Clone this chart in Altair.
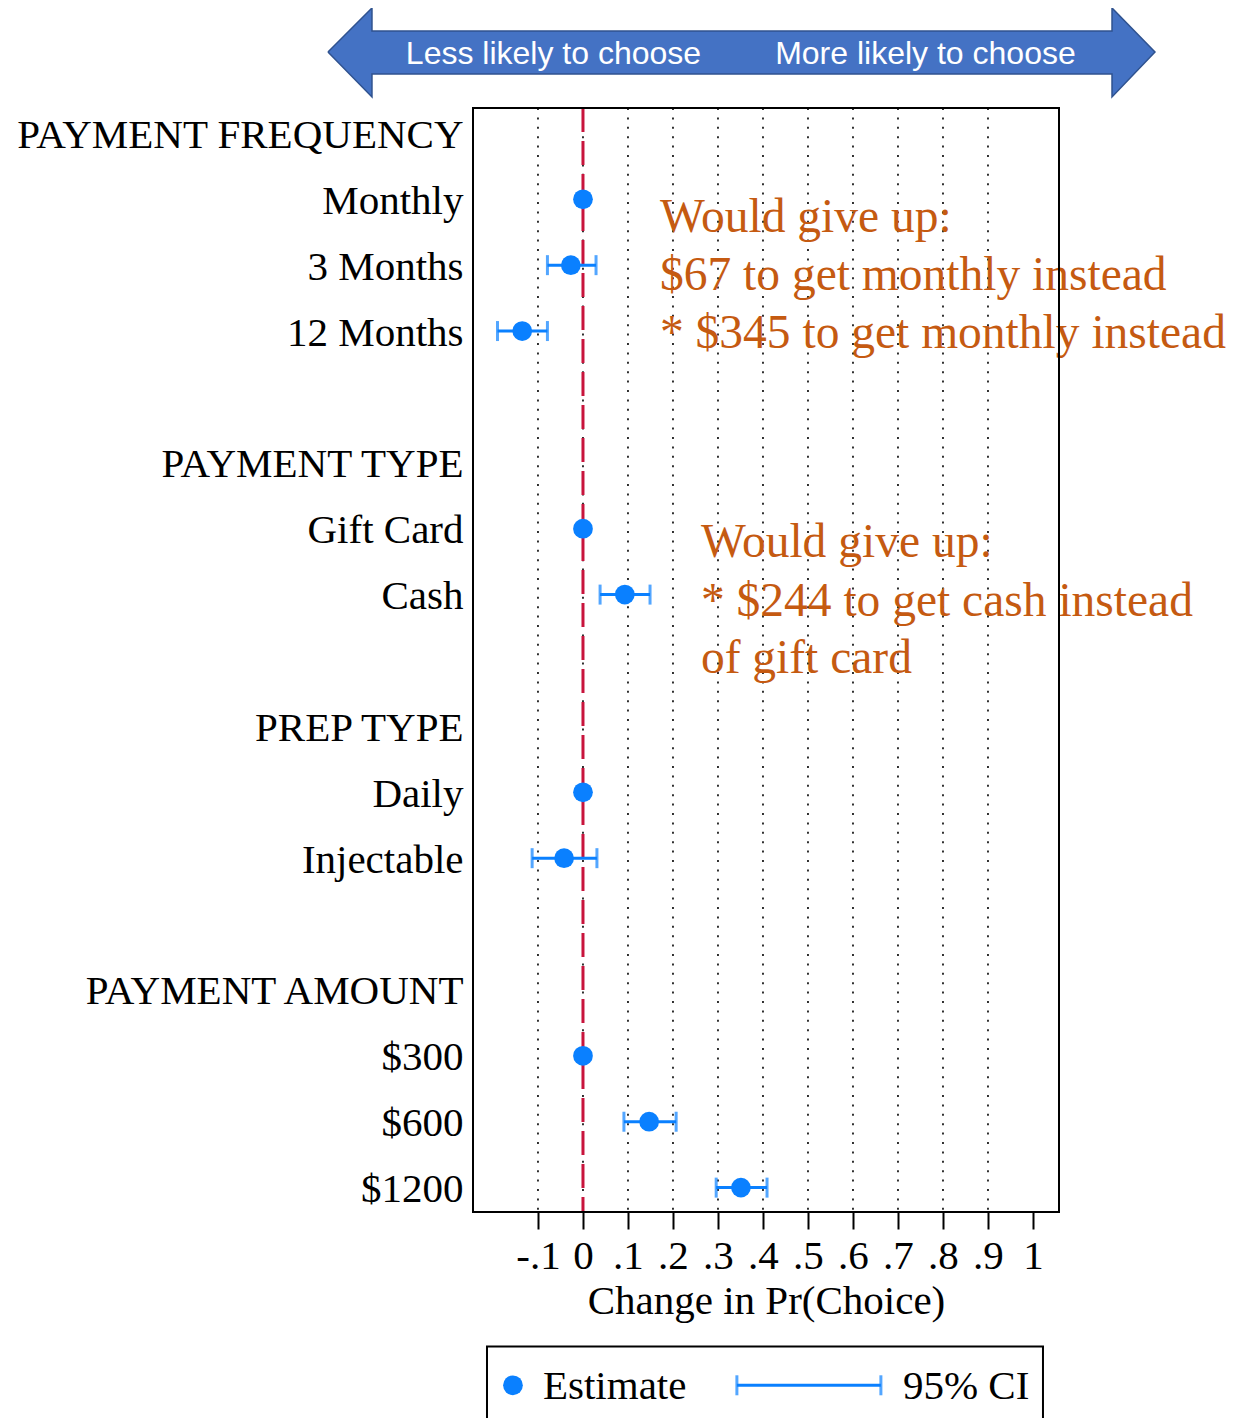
import json
import altair as alt
import pandas as pd

# ---------------- data ----------------
row_labels = ["PAYMENT FREQUENCY", "Monthly", "3 Months", "12 Months", "",
              "PAYMENT TYPE", "Gift Card", "Cash", "",
              "PREP TYPE", "Daily", "Injectable", "",
              "PAYMENT AMOUNT", "$300", "$600", "$1200"]
levels = ["Monthly", "3 Months", "12 Months", "Gift Card", "Cash",
          "Daily", "Injectable", "$300", "$600", "$1200"]
estimates = [0.0, -0.027, -0.135, 0.0, 0.093, 0.0, -0.042, 0.0, 0.147, 0.351]
ci_low = [None, -0.079, -0.190, None, 0.038, None, -0.113, None, 0.091, 0.296]
ci_high = [None, 0.029, -0.079, None, 0.149, None, 0.031, None, 0.207, 0.409]

x_ticks = [-0.1, 0, 0.1, 0.2, 0.3, 0.4, 0.5, 0.6, 0.7, 0.8, 0.9, 1]
grid_values = [-0.1, 0, 0.1, 0.2, 0.3, 0.4, 0.5, 0.6, 0.7, 0.8, 0.9]

note1_lines = ["Would give up:", "$67 to get monthly instead", "* $345 to get monthly instead"]
note2_lines = ["Would give up:", "* $244 to get cash instead", "of gift card"]
arrow_labels = ["Less likely to choose", "More likely to choose"]
legend_labels = ["Estimate", "95% CI"]

# ---------------- layout (scale domains & decoration placement) ----------------
XMIN, XMAX = -0.2444, 1.0578
YMIN, YMAX = -0.385, 16.37
W, H = 586, 1104

note1_x, note1_y = 0.171, [1.28, 2.16, 3.04]
note2_x, note2_y = 0.262, [6.22, 7.11, 7.97]

arrow_x = [-0.5667, -0.4689, -0.4689, 1.1756, 1.1756, 1.2711, 1.1756, 1.1756, -0.4689, -0.4689, -0.5667]
arrow_y = [-1.235, -1.903, -1.554, -1.554, -1.903, -1.235, -0.552, -0.901, -0.901, -0.552, -1.235]
arrow_text_x = [-0.0656, 0.761]
arrow_text_y = -1.20

leg_box = dict(x=-0.2133, x2=1.0222, y=18.41, y2=19.62)
leg_y = 19.0
leg_dot_x = -0.1556
leg_est_x = -0.0889
leg_ci_x, leg_ci_x2 = 0.342, 0.662
leg_ci_text_x = 0.711

BLUE = "#0a80ff"
RED = "#c8143c"
ORANGE = "#c55a11"
SERIF = "Liberation Serif"
FS = 41

# ---------------- tables ----------------
pts = pd.DataFrame({
    "row": [row_labels.index(l) for l in levels],
    "level": levels,
    "est": estimates,
    "lo": ci_low,
    "hi": ci_high,
})
ci = pts.dropna(subset=["lo"])
caps = pd.concat([
    pd.DataFrame({"row": ci["row"], "x": ci["lo"]}),
    pd.DataFrame({"row": ci["row"], "x": ci["hi"]}),
])

xs = alt.Scale(domain=[XMIN, XMAX], nice=False, zero=False)
ys = alt.Scale(domain=[YMIN, YMAX], nice=False, zero=False, reverse=True)

label_expr = "[" + ",".join(json.dumps(l) for l in row_labels) + "][datum.value]"

x_axis = alt.Axis(values=x_ticks, labelExpr="replace(toString(datum.value), '0.', '.')",
                  title="Change in Pr(Choice)", grid=False, domain=False,
                  tickSize=17, tickWidth=2, tickColor="black",
                  labelFont=SERIF, labelFontSize=FS, labelColor="black", labelPadding=7,
                  labelFlush=False, labelOverlap=False,
                  titleFont=SERIF, titleFontSize=FS, titleFontWeight="normal",
                  titleColor="black", titlePadding=5)
y_axis = alt.Axis(values=list(range(len(row_labels))), labelExpr=label_expr, title=None,
                  grid=False, domain=False, ticks=False,
                  labelFont=SERIF, labelFontSize=FS, labelColor="black", labelPadding=10,
                  labelLimit=800, labelOverlap=False, labelBaseline="middle", labelOffset=2)

# grid lines (dotted)
grid = alt.Chart(pd.DataFrame({"g": grid_values})).mark_rule(
    color="black", strokeWidth=1.6, strokeDash=[2, 7.4]
).encode(x=alt.X("g:Q", scale=xs, axis=x_axis))

# axis carrier for y labels
yaxis_layer = alt.Chart(pd.DataFrame({"row": list(range(len(row_labels))), "x": [0.0] * len(row_labels)})).mark_point(
    opacity=0
).encode(x=alt.X("x:Q", scale=xs), y=alt.Y("row:Q", scale=ys, axis=y_axis))

zero_line = alt.Chart(pd.DataFrame({"z": [0.0]})).mark_rule(
    color=RED, strokeWidth=3, strokeDash=[24, 9]
).encode(x=alt.X("z:Q", scale=xs))

ci_rule = alt.Chart(ci).mark_rule(color=BLUE, strokeWidth=3).encode(
    x=alt.X("lo:Q", scale=xs), x2="hi:Q", y=alt.Y("row:Q", scale=ys))
ci_caps = alt.Chart(caps).mark_tick(color=BLUE, orient="vertical", size=20, thickness=3).encode(
    x=alt.X("x:Q", scale=xs), y=alt.Y("row:Q", scale=ys))
points = alt.Chart(pts).mark_circle(color=BLUE, size=390, opacity=1).encode(
    x=alt.X("est:Q", scale=xs), y=alt.Y("row:Q", scale=ys))

notes_df = pd.DataFrame({
    "t": note1_lines + note2_lines,
    "x": [note1_x] * 3 + [note2_x] * 3,
    "y": note1_y + note2_y,
})
notes = alt.Chart(notes_df).mark_text(
    align="left", baseline="middle", font=SERIF, fontSize=47.5, color=ORANGE, clip=False
).encode(x=alt.X("x:Q", scale=xs), y=alt.Y("y:Q", scale=ys), text="t:N")

frame = alt.Chart(pd.DataFrame({"x": [XMIN], "x2": [XMAX], "y": [YMIN], "y2": [YMAX]})).mark_rect(
    fillOpacity=0, stroke="black", strokeWidth=2
).encode(x=alt.X("x:Q", scale=xs), x2="x2:Q", y=alt.Y("y:Q", scale=ys), y2="y2:Q")

arrow_df = pd.DataFrame({"x": arrow_x, "y": arrow_y, "i": list(range(len(arrow_x)))})
arrow = alt.Chart(arrow_df).mark_line(
    fill="#4472c4", stroke="#2f528f", strokeWidth=1.5, clip=False, interpolate="linear"
).encode(x=alt.X("x:Q", scale=xs), y=alt.Y("y:Q", scale=ys), order="i:Q")
arrow_text = alt.Chart(pd.DataFrame({"t": arrow_labels, "x": arrow_text_x, "y": [arrow_text_y] * 2})).mark_text(
    align="center", baseline="middle", font="Liberation Sans", fontSize=32, color="white", clip=False
).encode(x=alt.X("x:Q", scale=xs), y=alt.Y("y:Q", scale=ys), text="t:N")

# legend
leg_rect = alt.Chart(pd.DataFrame([leg_box])).mark_rect(
    fill="white", stroke="black", strokeWidth=2, clip=False
).encode(x=alt.X("x:Q", scale=xs), x2="x2:Q", y=alt.Y("y:Q", scale=ys), y2="y2:Q")
leg_dot = alt.Chart(pd.DataFrame({"x": [leg_dot_x], "y": [leg_y]})).mark_circle(
    color=BLUE, size=390, opacity=1, clip=False
).encode(x=alt.X("x:Q", scale=xs), y=alt.Y("y:Q", scale=ys))
leg_line = alt.Chart(pd.DataFrame({"x": [leg_ci_x], "x2": [leg_ci_x2], "y": [leg_y]})).mark_rule(
    color=BLUE, strokeWidth=3, clip=False
).encode(x=alt.X("x:Q", scale=xs), x2="x2:Q", y=alt.Y("y:Q", scale=ys))
leg_caps = alt.Chart(pd.DataFrame({"x": [leg_ci_x, leg_ci_x2], "y": [leg_y] * 2})).mark_tick(
    color=BLUE, orient="vertical", size=20, thickness=3, clip=False
).encode(x=alt.X("x:Q", scale=xs), y=alt.Y("y:Q", scale=ys))
leg_text = alt.Chart(pd.DataFrame({"t": legend_labels, "x": [leg_est_x, leg_ci_text_x], "y": [leg_y + 0.03] * 2})).mark_text(
    align="left", baseline="middle", font=SERIF, fontSize=FS, color="black", clip=False
).encode(x=alt.X("x:Q", scale=xs), y=alt.Y("y:Q", scale=ys), text="t:N")

chart = alt.layer(
    grid, yaxis_layer, zero_line, ci_rule, ci_caps, points, notes, frame,
    arrow, arrow_text, leg_rect, leg_dot, leg_line, leg_caps, leg_text
).properties(
    width=W, height=H,
    autosize=alt.AutoSizeParams(type="none"),
    padding={"left": 465, "top": 100, "right": 170, "bottom": 215},
    background="white",
).configure_view(stroke=None)

chart.save("out.html", embed_options={"renderer": "svg", "actions": False})
